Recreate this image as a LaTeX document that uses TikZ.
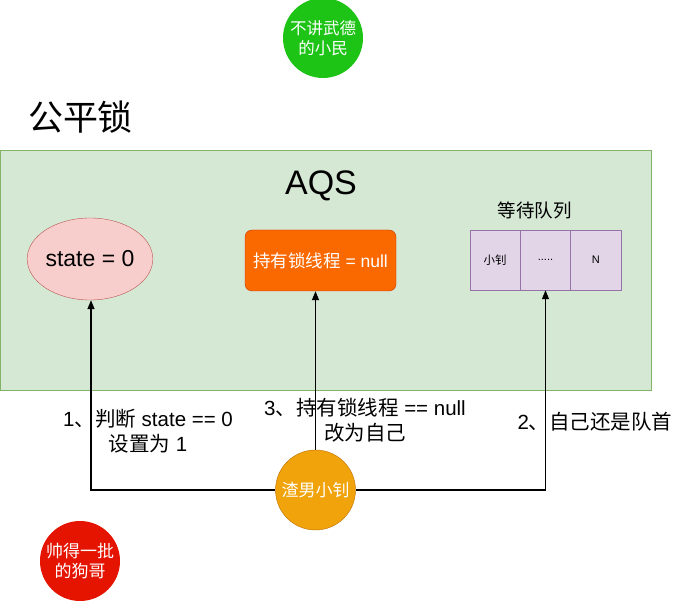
\documentclass[tikz,border=0pt]{standalone}
\usepackage{fontspec}
\setmainfont{Liberation Sans}
\newfontfamily\cjk{Noto Sans CJK SC}
\usetikzlibrary{shapes.geometric,arrows.meta}
\definecolor{aqsfill}{HTML}{D5E8D4}
\definecolor{aqsline}{HTML}{82B366}
\definecolor{redfill}{HTML}{F8CECC}
\definecolor{redline}{HTML}{B85450}
\definecolor{orfill}{HTML}{FA6800}
\definecolor{orline}{HTML}{C73500}
\definecolor{purfill}{HTML}{E1D5E7}
\definecolor{purline}{HTML}{9673A6}
\definecolor{yelfill}{HTML}{F0A30A}
\definecolor{yelline}{HTML}{BD7000}
\definecolor{greenfill}{HTML}{1DC416}
\definecolor{crimson}{HTML}{E51400}
\tikzset{
  actor/.style={circle,minimum size=80pt,inner sep=0pt,text=white,font=\cjk\fontsize{16.5}{20}\selectfont,align=center},
  qcell/.style={rectangle,draw=purline,fill=purfill,minimum width=50.3pt,minimum height=60pt,inner sep=0pt,font=\fontsize{11}{13}\selectfont},
  lbl/.style={align=center,font=\fontsize{20.5}{25.5}\selectfont,inner sep=0pt},
  conn/.style={draw=black,line width=1.3pt},
  arr/.style={-{Triangle[length=9pt,width=7pt]}}
}
\begin{document}
\begin{tikzpicture}[x=1pt,y=-1pt]
\useasboundingbox (0,0) rectangle (681,601);
\node[actor,fill=greenfill] (xm) at (323,38) {不讲武德\\的小民};
\node[font=\cjk\fontsize{35}{40}\selectfont] (title) at (80.5,117) {公平锁};
\node[draw=aqsline,fill=aqsfill,minimum width=651pt,minimum height=240pt,inner sep=0pt,anchor=north west] (aqs) at (0,150) {};
\node[font=\fontsize{34}{38}\selectfont] (aqst) at (321,186) {AQS};
\node[ellipse,draw=redline,fill=redfill,minimum width=120pt,minimum height=82pt,inner sep=0pt,font=\fontsize{23}{26}\selectfont] (st) at (90,259) {state = 0};
\node[rectangle,rounded corners=7pt,draw=orline,fill=orfill,minimum width=151pt,minimum height=61pt,inner sep=0pt,text=white,font=\fontsize{17.5}{20}\selectfont] (own) at (320.5,260.5) {{\cjk 持有锁线程} = null};
\node[font=\cjk\fontsize{18.5}{21}\selectfont] (qt) at (534.5,210) {等待队列};
\node[qcell] (q1) at (495.2,260) {{\cjk\fontsize{11.5}{13}\selectfont 小钊}};
\node[qcell] (q2) at (545.5,260) {.....};
\node[qcell] (q3) at (595.8,260) {N};
\node[actor,draw=yelline,fill=yelfill,font=\cjk\fontsize{17}{20}\selectfont] (p) at (315.5,490) {渣男小钊};
\coordinate (cl) at (91,490);
\coordinate (cr) at (545.5,490);
\draw[conn,arr] (p.north) -- (p.north |- own.south);
\draw[conn,arr] (p.west) -- (cl) -- (cl |- st.south);
\draw[conn,arr] (p.east) -- (cr) -- (cr |- q2.south);
\node[lbl] (l1) at (148,431) {1{\cjk 、判断} state == 0\\{\cjk 设置为} 1};
\node[lbl] (l3) at (365,420) {3{\cjk 、持有锁线程} == null\\{\cjk 改为自己}};
\node[lbl] (l2) at (595,422) {2{\cjk 、自己还是队首}};
\node[actor,fill=crimson,font=\cjk\fontsize{17}{20}\selectfont] (gg) at (80,561) {帅得一批\\的狗哥};
\end{tikzpicture}
\end{document}
